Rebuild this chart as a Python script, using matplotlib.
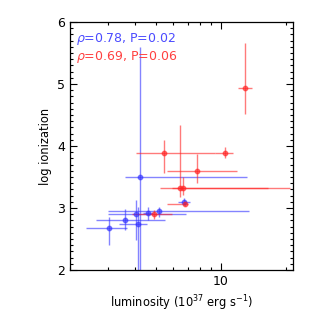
import matplotlib
matplotlib.use("Agg")
import matplotlib.pyplot as plt
from matplotlib.ticker import LogLocator, FixedLocator, MultipleLocator, NullFormatter
import numpy as np

# blue sample: luminosity (1e37 erg/s), lower/upper bounds, log ionization, lower/upper
blue_x = [3.03, 3.58, 4.11, 4.03, 4.22, 4.61, 5.16, 6.74]
blue_xlo = [2.37, 2.63, 3.37, 2.99, 3.59, 4.35, 2.99, 6.32]
blue_xhi = [3.66, 5.51, 4.53, 6.92, 13.15, 4.85, 13.4, 7.18]
blue_y = [2.67, 2.81, 2.74, 2.91, 3.50, 2.92, 2.95, 3.10]
blue_ylo = [2.40, 2.65, 2.00, 2.48, 1.80, 2.81, 2.86, 3.05]
blue_yhi = [2.86, 2.98, 3.02, 3.13, 5.60, 3.02, 3.02, 3.16]

# red sample
red_x = [5.46, 10.43, 12.96, 6.46, 6.69, 7.72, 6.81, 4.91]
red_xlo = [4.04, 9.38, 12.0, 5.22, 5.90, 5.62, 5.62, 3.86]
red_xhi = [9.38, 11.3, 13.96, 16.5, 20.9, 11.8, 7.04, 5.91]
red_y = [3.88, 3.89, 4.93, 3.32, 3.33, 3.60, 3.07, 2.90]
red_ylo = [3.56, 3.81, 4.52, 3.18, 3.21, 3.40, 3.03, 2.83]
red_yhi = [4.10, 3.99, 5.66, 4.34, 3.50, 3.87, 3.12, 2.97]

blue_label = r"$\rho$=0.78, P=0.02"
red_label = r"$\rho$=0.69, P=0.06"

fig = plt.figure(figsize=(3.15, 3.15), dpi=100)
ax = fig.add_axes([0.222, 0.143, 0.708, 0.787])


def draw(x, xlo, xhi, y, ylo, yhi, color):
    x = np.array(x)
    y = np.array(y)
    xerr = [x - np.array(xlo), np.array(xhi) - x]
    yerr = [y - np.array(ylo), np.array(yhi) - y]
    ax.errorbar(x, y, xerr=xerr, yerr=yerr, fmt="o", color=color,
                ms=3.2, elinewidth=1.0, capsize=0, alpha=0.6)


draw(blue_x, blue_xlo, blue_xhi, blue_y, blue_ylo, blue_yhi, "#3333ff")
draw(red_x, red_xlo, red_xhi, red_y, red_ylo, red_yhi, "#ff2222")

ax.set_xscale("log")
ax.set_xlim(2.0, 21.5)
ax.set_ylim(2, 6)

ax.xaxis.set_major_locator(FixedLocator([10]))
ax.set_xticklabels(["10"])
ax.xaxis.set_minor_locator(LogLocator(base=10, subs=np.arange(2, 10)))
ax.xaxis.set_minor_formatter(NullFormatter())
ax.yaxis.set_major_locator(MultipleLocator(1))
ax.yaxis.set_minor_locator(MultipleLocator(0.1))

ax.tick_params(which="both", direction="in", top=True, right=True,
               labelsize=9, width=0.8)
ax.tick_params(which="major", length=5)
ax.tick_params(which="minor", length=2.5)
for s in ax.spines.values():
    s.set_linewidth(0.9)

ax.set_xlabel(r"luminosity (10$^{37}$ erg s$^{-1}$)", fontsize=8.3)
ax.set_ylabel("log ionization", fontsize=8.3)

ax.text(0.025, 0.965, blue_label, transform=ax.transAxes, color="#4b4bff",
        fontsize=9, va="top")
ax.text(0.025, 0.89, red_label, transform=ax.transAxes, color="#ff4040",
        fontsize=9, va="top")

fig.savefig("out.png", dpi=100)
